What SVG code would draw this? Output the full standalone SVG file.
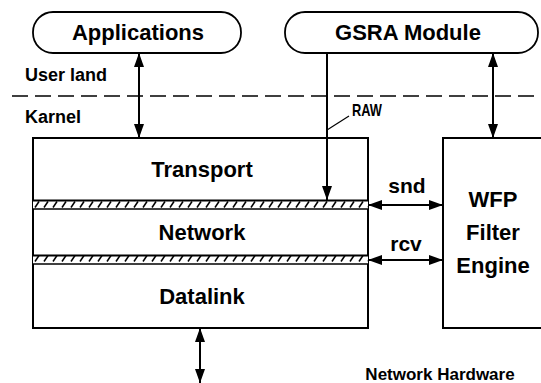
<svg xmlns="http://www.w3.org/2000/svg" width="541" height="383" viewBox="0 0 541 383">
<style>
  text { font-family: "Liberation Sans", Arial, sans-serif; font-weight: bold; fill: #000; }
  .big { font-size: 22px; text-anchor: middle; }
  .mid { font-size: 21px; text-anchor: middle; }
  .small { font-size: 18px; }
  .pill { fill: #fff; stroke: #000; stroke-width: 1.8; }
  .box { fill: #fff; stroke: #000; stroke-width: 2; }
  .conn { stroke: #000; stroke-width: 2; fill: none; }
  .arr2 { marker-start: url(#ah); marker-end: url(#ah); }
  .arr1 { marker-end: url(#ah); }
</style>
<defs>
  <marker id="ah" viewBox="0 0 14 10" refX="14" refY="5" markerWidth="14" markerHeight="10" markerUnits="userSpaceOnUse" orient="auto-start-reverse">
    <path d="M0,0 L14,5 L0,10 Z" fill="#000"/>
  </marker>
  <pattern id="hatch" patternUnits="userSpaceOnUse" x="33" y="200" width="9" height="9">
    <rect width="9" height="9" fill="#fff"/>
    <line x1="2" y1="7.5" x2="6" y2="1.5" stroke="#000" stroke-width="1.5"/>
  </pattern>
</defs>
<rect width="541" height="383" fill="#fff"/>

<g id="boundary">
  <line x1="12" y1="96" x2="541" y2="96" stroke="#000" stroke-width="1.6" stroke-dasharray="16 7"/>
  <text class="small" x="25" y="81">User land</text>
  <text class="small" x="25" y="123">Karnel</text>
</g>

<g id="applications">
  <rect class="pill" x="33" y="12" width="208" height="41" rx="20" ry="20"/>
  <text class="big" x="138" y="40">Applications</text>
</g>

<g id="gsra-module">
  <rect class="pill" x="285" y="12" width="253" height="41" rx="20" ry="20"/>
  <text class="big" x="408" y="40">GSRA Module</text>
</g>

<g id="stack">
  <rect class="box" x="33" y="138" width="335" height="190"/>
  <g id="transport"><text class="big" x="202" y="177">Transport</text></g>
  <g id="band1">
    <rect x="33" y="200" width="335" height="9" fill="url(#hatch)"/>
    <line x1="33" y1="200.5" x2="368" y2="200.5" stroke="#000" stroke-width="2.2"/>
    <line x1="33" y1="209" x2="368" y2="209" stroke="#000" stroke-width="1.4"/>
  </g>
  <g id="network"><text class="big" x="202" y="240">Network</text></g>
  <g id="band2">
    <rect x="33" y="255" width="335" height="9" fill="url(#hatch)"/>
    <line x1="33" y1="255.5" x2="368" y2="255.5" stroke="#000" stroke-width="2.2"/>
    <line x1="33" y1="264" x2="368" y2="264" stroke="#000" stroke-width="1.4"/>
  </g>
  <g id="datalink"><text class="big" x="202" y="304">Datalink</text></g>
</g>

<g id="wfp-filter-engine">
  <path d="M541,138 H443 V328 H541" fill="#fff" stroke="#000" stroke-width="2"/>
  <text class="big" x="493" y="207">WFP</text>
  <text class="big" x="493" y="240">Filter</text>
  <text class="big" x="493" y="273">Engine</text>
</g>

<g id="network-hardware">
  <text x="440" y="380" font-size="17" text-anchor="middle">Network Hardware</text>
</g>

<g id="connectors">
  <line class="conn arr2" x1="139" y1="53" x2="139" y2="138"/>
  <line class="conn arr2" x1="493" y1="53" x2="493" y2="138"/>
  <line class="conn arr1" x1="327" y1="53" x2="327" y2="200"/>
  <line x1="327" y1="130" x2="349" y2="116" stroke="#000" stroke-width="1.2"/>
  <text x="352" y="116" font-size="17" textLength="30" lengthAdjust="spacingAndGlyphs">RAW</text>
  <line class="conn arr2" x1="368" y1="205" x2="443" y2="205"/>
  <text class="mid" x="407" y="193">snd</text>
  <line class="conn arr2" x1="368" y1="260" x2="443" y2="260"/>
  <text class="mid" x="406" y="251">rcv</text>
  <line class="conn arr2" x1="200" y1="328" x2="200" y2="383"/>
</g>
</svg>
